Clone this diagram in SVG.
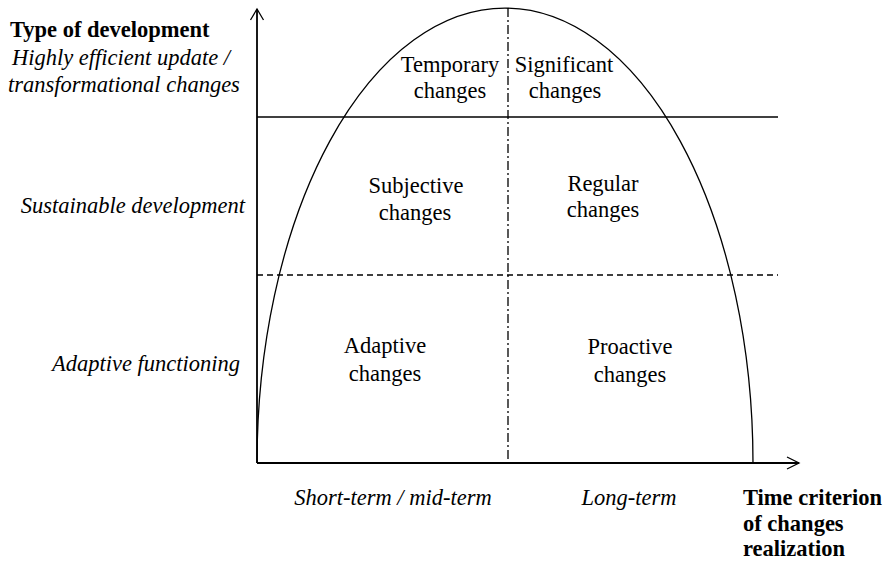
<svg xmlns="http://www.w3.org/2000/svg" width="891" height="562" viewBox="0 0 891 562">
<style>
text{font-family:'Liberation Serif','Times New Roman','DejaVu Serif',serif;font-size:22.5px;fill:#000}
.b{font-weight:bold}
.i{font-style:italic}
.c{text-anchor:middle}
.e{text-anchor:end}
.ln{fill:none;stroke:#000;stroke-width:1.3}
.ax{fill:none;stroke:#000;stroke-width:1.8}
</style>
<rect width="891" height="562" fill="#fff"/>
<g id="connectors">
<path class="ln" d="M257 463 A248 455 0 0 1 753 463"/>
<line class="ln" x1="257" y1="117" x2="778" y2="117"/>
<line class="ln" x1="257" y1="275" x2="778" y2="275" stroke-dasharray="6,4"/>
<line class="ln" x1="508" y1="8" x2="508" y2="463" stroke-dasharray="9,3,2,3"/>
<line class="ax" x1="257" y1="463" x2="257" y2="9"/>
<polyline class="ln" points="250.5,20 257,9 263.5,20"/>
<line class="ax" x1="257" y1="463" x2="799" y2="463"/>
<polyline class="ln" points="787,457 799,463 787,469"/>
</g>
<g font-family="Liberation Serif, DejaVu Serif, serif">
<g id="y-axis-title"><text class="b" x="10" y="37">Type of development</text></g>
<g id="y-highly"><text class="i" x="12" y="65">Highly efficient update /</text><text class="i" x="8" y="92">transformational changes</text></g>
<g id="y-sustainable"><text class="i e" x="245" y="213">Sustainable development</text></g>
<g id="y-adaptive"><text class="i e" x="240" y="371">Adaptive functioning</text></g>
<g id="temporary"><text class="c" x="450" y="72">Temporary</text><text class="c" x="450" y="98">changes</text></g>
<g id="significant"><text class="c" x="564" y="72">Significant</text><text class="c" x="565" y="98">changes</text></g>
<g id="subjective"><text class="c" x="416" y="193">Subjective</text><text class="c" x="415" y="220">changes</text></g>
<g id="regular"><text class="c" x="603" y="191">Regular</text><text class="c" x="603" y="217">changes</text></g>
<g id="adaptive"><text class="c" x="385" y="353">Adaptive</text><text class="c" x="385" y="381">changes</text></g>
<g id="proactive"><text class="c" x="630" y="354">Proactive</text><text class="c" x="630" y="382">changes</text></g>
<g id="x-short"><text class="i c" x="393" y="505">Short-term / mid-term</text></g>
<g id="x-long"><text class="i c" x="629" y="505">Long-term</text></g>
<g id="x-axis-title"><text class="b" x="743" y="505">Time criterion</text><text class="b" x="743" y="531">of changes</text><text class="b" x="743" y="556">realization</text></g>
</g>
</svg>
